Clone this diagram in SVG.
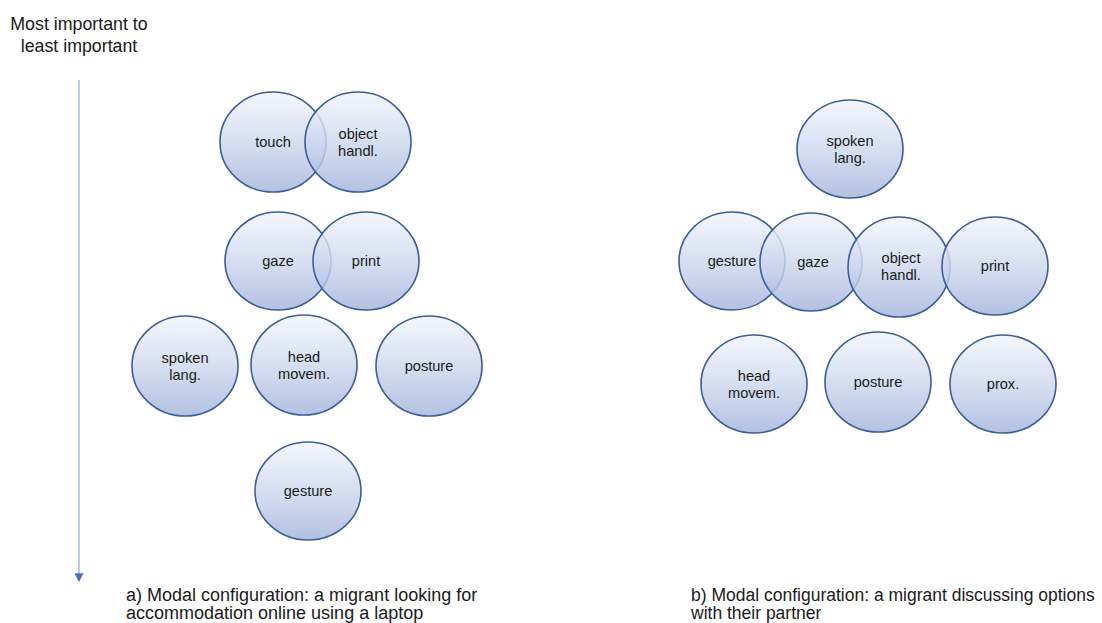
<svg xmlns="http://www.w3.org/2000/svg" width="1102" height="623" viewBox="0 0 1102 623">
  <defs>
    <linearGradient id="bubbleFill" x1="0" y1="0" x2="0" y2="1">
      <stop offset="0" stop-color="#f2f5fb"/>
      <stop offset="0.55" stop-color="#c9d4ec"/>
      <stop offset="1" stop-color="#a3b4da"/>
    </linearGradient>
    <!-- small filled triangle pointing along the line direction -->
    <marker id="arrowHead" viewBox="0 0 10 10" refX="2" refY="5" markerWidth="9" markerHeight="9" markerUnits="userSpaceOnUse" orient="auto">
      <path d="M0,0 L10,5 L0,10 Z" fill="#4a70bd"/>
    </marker>
    <style>
      .bubble { fill: url(#bubbleFill); fill-opacity: 0.82; stroke: #3d5d9c; stroke-width: 1.6; }
      .lbl { font-family: "Liberation Sans", Arial, sans-serif; font-size: 14.6px; fill: #1a1a1a; text-anchor: middle; }
      .cap { font-family: "Liberation Sans", Arial, sans-serif; font-size: 18px; fill: #1a1a1a; }
      .capb { font-size: 17.5px; }
      .axis { font-family: "Liberation Sans", Arial, sans-serif; font-size: 17.8px; fill: #1a1a1a; text-anchor: middle; }
    </style>
  </defs>
  <rect width="1102" height="623" fill="#ffffff"/>

  <!-- importance axis -->
  <g id="axis">
    <text class="axis" x="79" y="30">Most important to</text>
    <text class="axis" x="79" y="52">least important</text>
  </g>
  <g id="connectors">
    <line x1="79" y1="80" x2="79" y2="575" stroke="#9fb3e0" stroke-width="1.4" marker-end="url(#arrowHead)"/>
  </g>

  <!-- a) laptop configuration -->
  <g id="a-touch"><ellipse class="bubble" cx="273" cy="142" rx="53" ry="50"/><text class="lbl" x="273" y="147">touch</text></g>
  <g id="a-object"><ellipse class="bubble" cx="358" cy="142" rx="53" ry="50"/><text class="lbl" x="358" y="139">object</text><text class="lbl" x="358" y="156">handl.</text></g>
  <g id="a-gaze"><ellipse class="bubble" cx="278" cy="261" rx="53" ry="49"/><text class="lbl" x="278" y="266">gaze</text></g>
  <g id="a-print"><ellipse class="bubble" cx="366" cy="261" rx="53" ry="49"/><text class="lbl" x="366" y="266">print</text></g>
  <g id="a-spoken"><ellipse class="bubble" cx="185" cy="366" rx="53" ry="50"/><text class="lbl" x="185" y="363">spoken</text><text class="lbl" x="185" y="380">lang.</text></g>
  <g id="a-head"><ellipse class="bubble" cx="304" cy="365" rx="53" ry="50"/><text class="lbl" x="304" y="362">head</text><text class="lbl" x="304" y="379">movem.</text></g>
  <g id="a-posture"><ellipse class="bubble" cx="429" cy="366" rx="53" ry="50"/><text class="lbl" x="429" y="371">posture</text></g>
  <g id="a-gesture"><ellipse class="bubble" cx="308" cy="491" rx="53" ry="49"/><text class="lbl" x="308" y="496">gesture</text></g>
  <g id="caption-a">
    <text class="cap" x="126" y="601">a) Modal configuration: a migrant looking for</text>
    <text class="cap" x="126" y="619">accommodation online using a laptop</text>
  </g>

  <!-- b) partner discussion configuration -->
  <g id="b-spoken"><ellipse class="bubble" cx="850" cy="149" rx="53" ry="49"/><text class="lbl" x="850" y="146">spoken</text><text class="lbl" x="850" y="163">lang.</text></g>
  <g id="b-gesture"><ellipse class="bubble" cx="732" cy="261" rx="53" ry="49"/><text class="lbl" x="732" y="266">gesture</text></g>
  <g id="b-gaze"><ellipse class="bubble" cx="811" cy="262" rx="51" ry="49"/><text class="lbl" x="813" y="267">gaze</text></g>
  <g id="b-object"><ellipse class="bubble" cx="899" cy="267" rx="51" ry="50"/><text class="lbl" x="901" y="263">object</text><text class="lbl" x="901" y="280">handl.</text></g>
  <g id="b-print"><ellipse class="bubble" cx="995" cy="266" rx="53" ry="49"/><text class="lbl" x="995" y="271">print</text></g>
  <g id="b-head"><ellipse class="bubble" cx="754" cy="384" rx="53" ry="49"/><text class="lbl" x="754" y="381">head</text><text class="lbl" x="754" y="398">movem.</text></g>
  <g id="b-posture"><ellipse class="bubble" cx="878" cy="382" rx="53" ry="50"/><text class="lbl" x="878" y="387">posture</text></g>
  <g id="b-prox"><ellipse class="bubble" cx="1003" cy="384" rx="53" ry="49"/><text class="lbl" x="1003" y="389">prox.</text></g>
  <g id="caption-b">
    <text class="cap capb" x="691" y="601">b) Modal configuration: a migrant discussing options</text>
    <text class="cap capb" x="691" y="619">with their partner</text>
  </g>
</svg>
